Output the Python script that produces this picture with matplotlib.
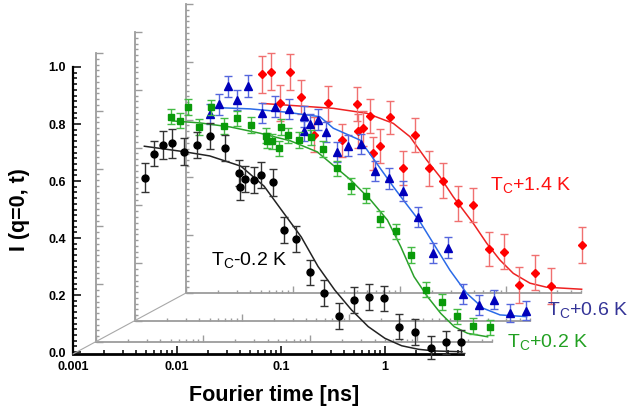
import numpy as np
import matplotlib
matplotlib.use("Agg")
import matplotlib.pyplot as plt
from matplotlib.ticker import LogLocator, MultipleLocator, NullFormatter
from matplotlib.lines import Line2D

plt.rcParams['font.family'] = ['Liberation Sans', 'DejaVu Sans']

#%% Data (each series lives on its own offset axes)
# Tc - 0.2 K  (front axes)
t_m02 = [0.00489, 0.00603, 0.0073, 0.009, 0.01156, 0.0155, 0.0207, 0.0288, 0.0393, 0.0399,
         0.0452, 0.0548, 0.0646, 0.0832, 0.107, 0.1406, 0.1905, 0.259, 0.361, 0.500,
         0.697, 0.973, 1.37, 1.93, 2.73, 3.84, 5.40]
I_m02 = [0.612, 0.696, 0.726, 0.732, 0.703, 0.725, 0.757, 0.716, 0.629, 0.579,
         0.608, 0.603, 0.621, 0.595, 0.427, 0.397, 0.279, 0.207, 0.126, 0.183,
         0.193, 0.188, 0.089, 0.070, 0.015, 0.034, 0.036]
e_m02 = [0.050, 0.045, 0.049, 0.050, 0.047, 0.046, 0.046, 0.047, 0.045, 0.045,
         0.046, 0.045, 0.045, 0.046, 0.045, 0.045, 0.045, 0.046, 0.045, 0.046,
         0.046, 0.045, 0.045, 0.045, 0.040, 0.040, 0.040]
fit_t_m02 = [0.00485, 0.01156, 0.0206, 0.0411, 0.0686, 0.1, 0.156, 0.2265, 0.327, 0.474,
             0.688, 0.995, 1.44, 2.09, 3.03, 5.48]
fit_I_m02 = [0.722, 0.703, 0.688, 0.652, 0.582, 0.500, 0.404, 0.300, 0.218, 0.148,
             0.089, 0.048, 0.022, 0.0095, 0.0035, 0.001]

# Tc + 0.2 K
t_p02 = [0.0050, 0.00615, 0.00726, 0.00916, 0.01175, 0.01556, 0.0209, 0.0282, 0.0388, 0.0399,
         0.0445, 0.0516, 0.0535, 0.0618, 0.0791, 0.1016, 0.1327, 0.1795, 0.2427, 0.3327,
         0.453, 0.640, 0.877, 1.222, 1.71, 2.38, 3.32, 4.75]
I_p02 = [0.780, 0.766, 0.813, 0.744, 0.813, 0.747, 0.774, 0.751, 0.713, 0.697,
         0.694, 0.670, 0.743, 0.716, 0.698, 0.709, 0.668, 0.601, 0.540, 0.506,
         0.426, 0.384, 0.301, 0.180, 0.138, 0.089, 0.056, 0.051]
e_p02 = [0.027, 0.026, 0.027, 0.027, 0.026, 0.027, 0.026, 0.027, 0.026, 0.027,
         0.026, 0.027, 0.027, 0.026, 0.027, 0.026, 0.027, 0.026, 0.027, 0.026,
         0.027, 0.026, 0.027, 0.026, 0.027, 0.026, 0.027, 0.026]
fit_t_p02 = [0.00515, 0.00942, 0.0180, 0.0344, 0.0655, 0.1164, 0.2388, 0.368, 0.527, 0.702,
             0.935, 1.248, 1.66, 2.22, 2.96, 4.55]
fit_I_p02 = [0.765, 0.758, 0.744, 0.722, 0.696, 0.658, 0.561, 0.491, 0.422, 0.330,
             0.226, 0.157, 0.099, 0.053, 0.030, 0.018]

# Tc + 0.6 K
t_p06 = [0.00507, 0.00612, 0.00738, 0.00908, 0.01151, 0.01535, 0.0206, 0.0279, 0.0382, 0.0386,
         0.0440, 0.0516, 0.0614, 0.0775, 0.0993, 0.1315, 0.1754, 0.237, 0.325, 0.447,
         0.621, 0.859, 1.186, 1.663, 2.31, 3.22, 4.55]
I_p06 = [0.715, 0.750, 0.812, 0.765, 0.813, 0.719, 0.742, 0.733, 0.709, 0.657,
         0.680, 0.696, 0.655, 0.586, 0.607, 0.612, 0.520, 0.494, 0.450, 0.361,
         0.236, 0.254, 0.093, 0.055, 0.073, 0.027, 0.036]
e_p06 = [0.035, 0.036, 0.036, 0.035, 0.039, 0.035, 0.036, 0.035, 0.036, 0.035,
         0.035, 0.036, 0.035, 0.035, 0.036, 0.035, 0.035, 0.036, 0.035, 0.035,
         0.035, 0.035, 0.034, 0.034, 0.033, 0.032, 0.032]
fit_t_p06 = [0.00526, 0.01194, 0.0254, 0.0539, 0.0720, 0.128, 0.183, 0.262, 0.325, 0.467,
             0.621, 0.889, 1.276, 1.824, 2.62, 4.65]
fit_I_p06 = [0.739, 0.734, 0.723, 0.707, 0.667, 0.626, 0.546, 0.465, 0.419, 0.343,
             0.269, 0.176, 0.096, 0.044, 0.021, 0.015]

# Tc + 1.4 K
t_p14 = [0.00512, 0.00621, 0.00753, 0.00935, 0.01202, 0.01585, 0.0212, 0.0290, 0.0399, 0.0410,
         0.0457, 0.0532, 0.0560, 0.0655, 0.0813, 0.107, 0.139, 0.190, 0.256, 0.352,
         0.486, 0.683, 0.944, 1.312, 1.853, 2.60, 5.14]
I_p14 = [0.757, 0.766, 0.656, 0.766, 0.679, 0.548, 0.656, 0.529, 0.654, 0.562,
         0.570, 0.613, 0.483, 0.509, 0.608, 0.431, 0.547, 0.431, 0.388, 0.310,
         0.304, 0.152, 0.143, 0.029, 0.070, 0.023, 0.167]
e_p14 = [0.064, 0.065, 0.062, 0.062, 0.058, 0.060, 0.060, 0.057, 0.060, 0.059,
         0.060, 0.059, 0.058, 0.059, 0.058, 0.059, 0.060, 0.060, 0.061, 0.060,
         0.060, 0.060, 0.061, 0.062, 0.060, 0.062, 0.063]
fit_t_p14 = [0.00512, 0.01167, 0.0239, 0.0492, 0.0873, 0.125, 0.1795, 0.239, 0.318, 0.490,
             0.655, 0.871, 1.161, 1.663, 2.38, 5.07]
fit_I_p14 = [0.656, 0.647, 0.639, 0.622, 0.587, 0.541, 0.460, 0.402, 0.333, 0.241,
             0.172, 0.114, 0.068, 0.034, 0.020, 0.013]

x_ticks = [0.001, 0.01, 0.1, 1]
x_labels = ["0.001", "0.01", "0.1", "1"]
y_ticks = [0.0, 0.2, 0.4, 0.6, 0.8, 1.0]
y_labels = ["0.0", "0.2", "0.4", "0.6", "0.8", "1.0"]

#%% Figure
W, H = 628, 413
fig = plt.figure(figsize=(W / 100, H / 100), dpi=100)

def box(left, bottom, w, h):
    return [left / W, 1 - bottom / H, w / W, h / H]

def gray_axes(rect):
    ax = fig.add_axes(rect)
    ax.patch.set_visible(False)
    ax.set_xscale('log')
    ax.set_xlim(0.001, 5.0)
    ax.set_ylim(0, 1.0)
    for s in ['top', 'right']:
        ax.spines[s].set_visible(False)
    for s in ['left', 'bottom']:
        ax.spines[s].set_color('#9c9c9c')
        ax.spines[s].set_linewidth(1.3)
    ax.yaxis.set_major_locator(MultipleLocator(0.2))
    ax.yaxis.set_minor_locator(MultipleLocator(0.02))
    ax.xaxis.set_major_locator(LogLocator(base=10))
    ax.xaxis.set_minor_locator(LogLocator(base=10, subs=np.arange(2, 10)))
    ax.xaxis.set_minor_formatter(NullFormatter())
    ax.tick_params(which='both', direction='in', colors='#9c9c9c',
                   labelleft=False, labelbottom=False, width=1)
    ax.tick_params(which='major', length=5)
    ax.tick_params(which='minor', length=2.5)
    return ax

ax4 = gray_axes(box(186, 293, 395, 289))
ax3 = gray_axes(box(135, 321, 395, 289))
ax2 = gray_axes(box(96, 342, 396, 289))

ax = fig.add_axes(box(73, 354, 390, 287))
ax.patch.set_visible(False)
ax.set_xscale('log')
ax.set_xlim(0.001, 5.6)
ax.set_ylim(-0.007, 1.0)
for s in ['top', 'right']:
    ax.spines[s].set_visible(False)
ax.spines['left'].set_linewidth(1.6)
ax.spines['bottom'].set_linewidth(2.0)
ax.set_xticks(x_ticks, labels=x_labels, fontweight='bold', fontsize=9)
ax.set_yticks(y_ticks, labels=y_labels, fontweight='bold', fontsize=9)
ax.xaxis.set_minor_locator(LogLocator(base=10, subs=np.arange(2, 10)))
ax.xaxis.set_minor_formatter(NullFormatter())
ax.yaxis.set_minor_locator(MultipleLocator(0.02))
ax.tick_params(which='both', direction='in', width=1.1, pad=5)
ax.tick_params(which='major', length=6)
ax.tick_params(which='minor', length=3)

# perspective line joining the axes origins
p0 = ax.get_position()
p4 = ax4.get_position()
fig.add_artist(Line2D([p0.x0, p4.x0], [p0.y0, p4.y0], transform=fig.transFigure,
                      color='#a8a8a8', lw=0.8))

#%% Series
series = [
    (ax4, t_p14, I_p14, e_p14, fit_t_p14, fit_I_p14, 'D', 4.2, '#ff0000', '#f07070', '#ee2222'),
    (ax3, t_p06, I_p06, e_p06, fit_t_p06, fit_I_p06, '^', 5.5, '#0000bb', '#5566dd', '#2b6be8'),
    (ax2, t_p02, I_p02, e_p02, fit_t_p02, fit_I_p02, 's', 4.6, '#0a9a0a', '#44bb44', '#2aa02a'),
    (ax, t_m02, I_m02, e_m02, fit_t_m02, fit_I_m02, 'o', 5.0, '#000000', '#333333', '#222222'),
]
for a, t, I, e, ft, fI, mk, ms, mc, ec, lc in series:
    a.plot(ft, fI, color=lc, lw=1.1, zorder=2, clip_on=False)
    a.errorbar(t, I, yerr=e, fmt=mk, ms=ms, color=mc, ecolor=ec, elinewidth=1,
               capsize=2.6, capthick=1, zorder=3, clip_on=False)

#%% Labels
lab = r'$\mathregular{T_C}$'
ax4.text(0.70, 0.374, lab + '+1.4 K', color='#ff1010', fontsize=14, va='center', ha='left')
ax3.text(7.16, 0.038, lab + '+0.6 K', color='#343497', fontsize=14, va='center', ha='left')
ax2.text(6.86, 0.0, lab + '+0.2 K', color='#22a022', fontsize=14, va='center', ha='left')
ax.text(0.0211, 0.322, lab + '-0.2 K', color='black', fontsize=14, va='center', ha='left')

fig.text(19 / W, 1 - 210 / H, 'I (q=0, t)', rotation=90, fontsize=15.5,
         fontweight='bold', ha='center', va='center')
fig.text(274 / W, 1 - 395 / H, 'Fourier time [ns]', fontsize=15.5,
         fontweight='bold', ha='center', va='center')

fig.savefig('out.png', dpi=100)
